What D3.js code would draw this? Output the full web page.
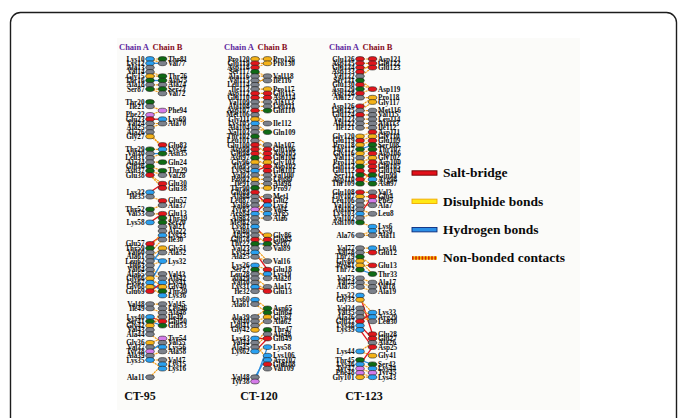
<!DOCTYPE html>
<html>
<head>
<meta charset="utf-8">
<script src="https://cdn.jsdelivr.net/npm/d3@7"></script>
<style>
  html, body { margin: 0; padding: 0; background: #fff; overflow: hidden; }
  text { font-family: "Liberation Serif", "Times New Roman", serif; font-weight: bold; }
</style>
</head>
<body>
<svg id="chart" width="683" height="418"></svg>
<script>
// Residue lists: one token per row of the interface plot, "." leaves an empty row.
const residues = s => s.trim().split(/\s+/).map(t => (t === "." ? null : t));

const panelNames = ["CT-95", "CT-120", "CT-123"];

const ct95A = residues(`Lys10 Lys12 Ala13 Val14 Gly15 Thr16 Ala18 Ser87 . . Thr20 Ile21 . Phe22 Glu23 Val24 Ala25 Ala26 Gly27 . . Thr29 Val30 Leu31 Ala34 Gln36 Asn37 Glu38 . . . Lys33 Ile35 . . Thr52 Val53 . Lys58 . . . . Glu57 Thr59 Val60 Ala61 Leu62 Ile63 Val64 Ala65 Gly66 Lys67 Gly68 Glu69 . . Val48 Ile49 . Lys40 Ser41 Gly42 Val43 Ala44 . Gly36 Val37 Tyr38 Ala39 Lys35 . . . Ala11`);
const ct95B = residues(`Thr81 Val77 . . Thr76 Asn75 Ala74 Ser73 Val72 . . . Phe94 . Lys69 Ala70 . . . . Glu83 Lys34 Asn35 . Gln24 . Thr29 Val28 . Glu30 Glu38 . . Glu57 Ala37 . Glu13 Thr19 Ser20 Val21 Ala22 Lys23 Ile30 . Gly51 Ala52 . Lys32 . . Val43 Ala42 Lys41 Gly40 Thr39 Lys36 . Val45 Leu46 Ala48 Ile49 Glu50 Gln53 . . Tyr54 Val55 Lys56 Ala58 . Val47 Lys15 Lys16`);

const ct120A = residues(`Pro120 Glu119 Asp118 Ser117 Ala116 Val115 Leu114 Ile113 Asp112 Glu110 Val109 Ala108 Asp107 Met106 Gly111 Lys105 Ala104 Val103 Thr102 Leu101 Glu100 Asp99 Glu98 Asn97 Gly96 Ala95 Lys94 Val93 Pro92 Ile91 Thr90 Glu89 Ala88 Leu87 Val86 Tyr85 Arg84 Ala83 Met82 Lys81 Val80 Ala79 Glu78 Thr22 Val23 Lys24 Ala25 . Lys26 Ser27 Leu28 Ala29 Val30 Lys31 Ile32 . Lys60 Ala61 . . Ala39 Val40 Leu41 Gly42 . Lys43 Val44 Ala45 Lys62 . . . . . Val48 Tyr38`);
const ct120B = residues(`Pro126 Pro130 . . Val118 Ile116 . Pro117 Glu115 Asp114 Ala113 Leu111 Gln110 . . Ile112 . Gln109 . . Ala107 Glu106 Asp105 Glu104 Gly103 Asp102 Glu101 Val100 Leu99 Ala98 Pro97 . Met1 Glu2 Lys3 Val4 Arg5 Ala6 . . . Gly86 Glu85 Ser87 Val89 . . Val16 . Glu18 Lys19 Ala20 . Ala17 Glu13 . . . Asn65 Gln64 Gly63 Ala62 . Thr47 Ala48 Glu49 . Lys58 . Lys106 Arg107 Glu108 Val109`);

const ct123A = residues(`Glu136 Asp135 Glu134 Asp133 Val132 Ser131 Glu130 Asn129 Asp128 Ala127 . Asp126 Leu125 Glu124 Val123 Ala122 Ile121 . Gly120 Glu119 Pro118 Thr117 Gly116 Val115 Pro114 Gln113 Glu112 Ser111 Asp110 Thr109 . Glu108 Gly107 Leu106 Val105 Ala104 Lys103 Val102 Asn100 . . Ala76 . . Val77 Val78 Thr79 Gly80 Pro81 Thr72 . Val73 Val74 Ala75 . Lys32 Gly33 . Val34 Val35 Ala36 Glu37 Lys38 Lys39 . . . . Lys44 . Thr45 Lys46 Tyr47 Phe48 Gly101`);
const ct123B = residues(`Asp121 Glu122 Glu123 . . . . Asp119 . Pro118 Gly117 . Met116 Val115 Leu114 Ala113 Ile112 Asp111 Gly110 Glu109 Ser108 Thr107 Asp106 Gly102 Asp100 Glu105 Glu104 Gln99 Arg98 Asn97 . Val3 Glu4 Phe5 Ala7 . Leu8 . . Lys6 Lys9 Ala11 . . Lys10 Glu12 . . Glu13 . Thr33 . Ala17 Val18 Ala19 . . . . Lys33 Arg29 Leu30 . . Glu28 Glu27 Ala26 Asp25 . Gly41 . Ser42 Lys44 Tyr45 Lys43`);

// Contacts: [row in chain A, row in chain B, kind]
// kind: s = salt bridge, d = disulphide, h = hydrogen bond, n = non-bonded contact
const ct95Links = [
  [0,0,"n"],[0,1,"n"],[1,1,"h"],[3,4,"n"],[4,4,"n"],[5,5,"h"],[6,6,"n"],[7,7,"n"],[7,8,"n"],
  [11,12,"n"],[13,12,"n"],[14,14,"s"],[15,15,"n"],[16,15,"n"],[18,20,"n"],[17,21,"n"],
  [21,21,"n"],[22,22,"h"],[23,22,"n"],[24,24,"n"],[25,26,"n"],[26,27,"n"],[27,29,"n"],[27,30,"n"],
  [31,29,"s"],[32,33,"n"],[35,34,"n"],[36,36,"n"],[38,36,"s"],
  [43,41,"s"],[44,40,"n"],[45,42,"n"],[46,44,"n"],[47,45,"n"],[48,47,"n"],[46,47,"h"],[48,44,"h"],
  [49,50,"n"],[50,51,"n"],[51,53,"n"],[52,54,"h"],[53,55,"n"],[54,52,"s"],[52,47,"h"],
  [57,57,"n"],[58,59,"n"],[60,61,"s"],[61,62,"h"],[62,60,"n"],[63,58,"n"],[64,66,"n"],
  [66,65,"n"],[67,67,"n"],[68,66,"h"],[69,68,"n"],[70,70,"n"],[70,72,"n"],[74,71,"n"]
];
const ct120Links = [
  [0,0,"n"],[1,1,"n"],[2,1,"n"],[3,4,"n"],[4,4,"n"],[5,5,"n"],[6,4,"n"],[7,7,"n"],[8,8,"n"],
  [9,9,"n"],[10,10,"n"],[11,11,"n"],[12,12,"n"],[13,15,"n"],[14,15,"n"],[15,17,"n"],[16,17,"n"],
  [18,20,"n"],[19,21,"n"],[20,22,"n"],[21,23,"n"],[22,24,"n"],[23,25,"n"],[24,26,"n"],[26,25,"s"],
  [27,27,"n"],[28,28,"n"],[29,29,"n"],[30,30,"n"],[31,34,"s"],[32,32,"n"],[33,33,"n"],[34,35,"n"],
  [35,36,"n"],[36,33,"s"],[37,37,"n"],[39,42,"s"],[40,41,"n"],[41,43,"n"],[42,44,"n"],[43,43,"h"],
  [44,47,"n"],[45,49,"s"],[46,47,"n"],[48,49,"n"],[49,51,"n"],[50,50,"n"],[51,53,"n"],[53,54,"s"],
  [52,54,"n"],[54,53,"n"],[56,58,"n"],[57,59,"n"],[60,58,"n"],[61,60,"n"],[62,61,"n"],[63,60,"n"],
  [65,65,"s"],[66,63,"n"],[67,64,"n"],[68,65,"s"],[68,67,"n"],[66,70,"n"],[74,69,"h"],[75,67,"h"]
];
const ct123Links = [
  [0,0,"n"],[1,1,"n"],[2,2,"n"],[3,1,"n"],[4,2,"n"],[5,7,"n"],[6,7,"n"],[8,7,"n"],[9,9,"n"],
  [11,9,"n"],[12,10,"n"],[12,12,"n"],[13,13,"n"],[14,14,"n"],[15,15,"n"],[16,16,"n"],[18,17,"n"],
  [19,18,"n"],[20,19,"n"],[21,20,"h"],[22,21,"n"],[23,22,"n"],[24,23,"n"],[25,24,"n"],[26,28,"s"],
  [27,27,"n"],[28,29,"n"],[29,26,"n"],[31,31,"n"],[32,32,"n"],[33,33,"n"],[34,34,"n"],[36,32,"s"],
  [35,36,"n"],[37,36,"n"],[38,39,"n"],[41,40,"n"],[41,41,"n"],[44,44,"n"],[45,45,"n"],[46,48,"n"],
  [47,50,"n"],[48,48,"n"],[49,50,"h"],[51,52,"n"],[52,53,"n"],[53,54,"n"],[55,64,"s"],[56,59,"n"],
  [58,60,"n"],[59,61,"n"],[60,61,"n"],[61,59,"s"],[62,65,"s"],[63,67,"s"],[68,69,"n"],[68,66,"n"],
  [70,71,"h"],[71,72,"n"],[72,73,"n"],[73,74,"n"],[74,74,"n"],[71,67,"s"]
];

const legendKinds = ["s", "d", "h", "n"];
const legendLabels = ["Salt-bridge", "Disulphide bonds", "Hydrogen bonds", "Non-bonded contacts"];

// Residue classes (PDBsum colouring) and their fill colours
const residueClasses = ["pos", "neg", "neu", "ali", "aro", "pg", "cys"];
const residueColours = ["#2aa0f0", "#e0161c", "#0f6a14", "#7c818b", "#d47be8", "#f4b218", "#ffe81a"];
const classOfResidue = {
  Lys: "pos", Arg: "pos", His: "pos",
  Asp: "neg", Glu: "neg",
  Ser: "neu", Thr: "neu", Asn: "neu", Gln: "neu",
  Ala: "ali", Val: "ali", Leu: "ali", Ile: "ali", Met: "ali",
  Phe: "aro", Tyr: "aro", Trp: "aro",
  Pro: "pg", Gly: "pg", Cys: "cys"
};

const panels = [
  { name: "CT-95",  a: ct95A,  b: ct95B,  links: ct95Links,  titleDx: -10 },
  { name: "CT-120", a: ct120A, b: ct120B, links: ct120Links, titleDx: 4 },
  { name: "CT-123", a: ct123A, b: ct123B, links: ct123Links, titleDx: 4 }
];

// ---------- drawing ----------
const svg = d3.select("#chart");

// page frame and plot backdrop
svg.append("rect").attr("x", 10.5).attr("y", 12.5).attr("width", 666).attr("height", 430)
  .attr("rx", 10).attr("fill", "#fff").attr("stroke", "#1c1c1c").attr("stroke-width", 1.4);
svg.append("rect").attr("x", 117).attr("y", 38).attr("width", 463).attr("height", 372)
  .attr("fill", "#fbfbf9");

const colour = d3.scaleOrdinal().domain(residueClasses).range(residueColours);
const fillOf = name => colour(classOfResidue[name.slice(0, 3)] || "ali");

const y = d3.scaleLinear().domain([0, 74]).range([59, 377.2]);
const xPanel = d3.scalePoint().domain(panelNames).range([150, 360]);
const chainGap = 12.5;

const linkStyle = {
  s: { stroke: "#e0141c", width: 1.3, dash: null },
  d: { stroke: "#f5d800", width: 1.3, dash: null },
  h: { stroke: "#2a8de0", width: 1.3, dash: null },
  n: { stroke: "#f4a01c", width: 1.2, dash: "2.2,0.7" }
};

panels.forEach(p => {
  const xa = xPanel(p.name), xb = xa + chainGap;
  const g = svg.append("g");

  // chain headers
  g.append("text").attr("x", xa - 16).attr("y", 49.5).attr("text-anchor", "middle")
    .attr("font-size", 8.5).attr("fill", "#5f2a9e").text("Chain A");
  g.append("text").attr("x", xb + 5).attr("y", 49.5).attr("text-anchor", "middle")
    .attr("font-size", 8.5).attr("fill", "#850c1c").text("Chain B");

  // contacts
  g.append("g").selectAll("line").data(p.links).join("line")
    .attr("x1", xa).attr("y1", d => y(d[0]))
    .attr("x2", xb).attr("y2", d => y(d[1]))
    .attr("stroke", d => linkStyle[d[2]].stroke)
    .attr("stroke-width", d => linkStyle[d[2]].width)
    .attr("stroke-dasharray", d => linkStyle[d[2]].dash);

  const rowsA = p.a.map((r, i) => ({ r, i })).filter(d => d.r);
  const rowsB = p.b.map((r, i) => ({ r, i })).filter(d => d.r);

  [[rowsA, xa, "end", -5.5], [rowsB, xb, "start", 5.5]].forEach(([rows, x, anchor, off]) => {
    g.append("g").selectAll("ellipse").data(rows).join("ellipse")
      .attr("cx", x).attr("cy", d => y(d.i)).attr("rx", 4.3).attr("ry", 2.4)
      .attr("fill", d => fillOf(d.r)).attr("stroke", "#1e1e1e").attr("stroke-width", 0.6);
    g.append("g").selectAll("text").data(rows).join("text")
      .attr("x", x + off).attr("y", d => y(d.i)).attr("dy", "0.36em")
      .attr("text-anchor", anchor).attr("font-size", 7.2).attr("fill", "#111")
      .text(d => d.r);
  });

  // complex name below the panel
  g.append("text").attr("x", xa + p.titleDx).attr("y", 400).attr("text-anchor", "middle")
    .attr("font-size", 12).attr("fill", "#111").text(p.name);
});

// legend
const legend = svg.append("g");
const ly = d3.scalePoint().domain(legendKinds).range([173, 258]);
const legendSwatch = {
  s: { fill: "#e3101a", stroke: "#6a0000" },
  d: { fill: "#ffe816", stroke: "#f0a800" },
  h: { fill: "#2b8ee6", stroke: "#0a2a7a" }
};
legendKinds.forEach((k, i) => {
  const yy = ly(k);
  if (k === "n") {
    legend.append("line").attr("x1", 412).attr("x2", 437).attr("y1", yy).attr("y2", yy)
      .attr("stroke", "#f6b400").attr("stroke-width", 3.4);
    legend.append("line").attr("x1", 412).attr("x2", 437).attr("y1", yy).attr("y2", yy)
      .attr("stroke", "#d02a00").attr("stroke-width", 3.4).attr("stroke-dasharray", "1.6,1.6");
  } else {
    legend.append("rect").attr("x", 412).attr("y", yy - 2.2).attr("width", 25).attr("height", 4.4)
      .attr("fill", legendSwatch[k].fill).attr("stroke", legendSwatch[k].stroke).attr("stroke-width", 0.9);
  }
  legend.append("text").attr("x", 443).attr("y", yy).attr("dy", "0.33em")
    .attr("font-size", 13.5).attr("fill", "#0a0a0a").text(legendLabels[i]);
});
</script>
</body>
</html>
